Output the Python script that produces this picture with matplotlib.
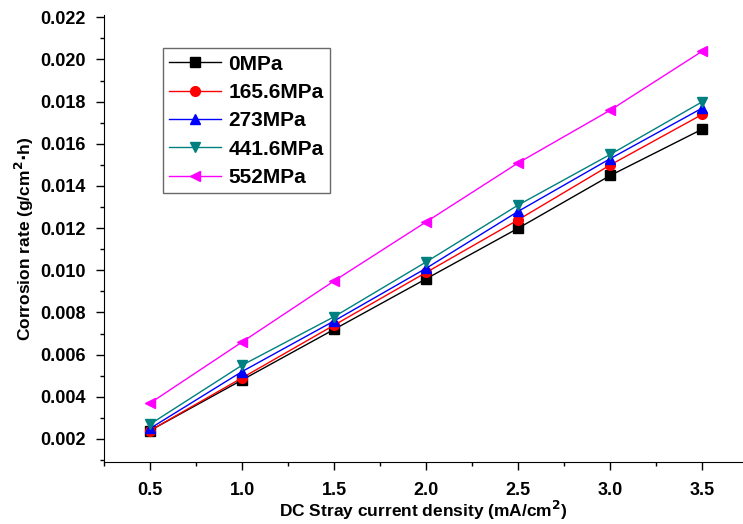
import matplotlib
matplotlib.use('Agg')
import matplotlib.pyplot as plt
from matplotlib.ticker import MultipleLocator, FormatStrFormatter

plt.rcParams['font.family'] = 'Liberation Sans'
plt.rcParams['font.weight'] = 'bold'

density = [0.5, 1.0, 1.5, 2.0, 2.5, 3.0, 3.5]
labels = ['0MPa', '165.6MPa', '273MPa', '441.6MPa', '552MPa']
rate_0 = [0.0024, 0.0048, 0.0072, 0.0096, 0.0120, 0.0145, 0.0167]
rate_165 = [0.0024, 0.0049, 0.0074, 0.0099, 0.0124, 0.0150, 0.0174]
rate_273 = [0.0025, 0.0052, 0.0076, 0.0101, 0.0128, 0.0153, 0.0177]
rate_441 = [0.0027, 0.0055, 0.0078, 0.0104, 0.0131, 0.0155, 0.0180]
rate_552 = [0.0037, 0.0066, 0.0095, 0.0123, 0.0151, 0.0176, 0.0204]

series = [rate_0, rate_165, rate_273, rate_441, rate_552]
colors = ['black', 'red', 'blue', '#008080', 'magenta']
markers = ['s', 'o', '^', 'v', '<']

fig = plt.figure(figsize=(7.43, 5.24), dpi=100)
ax = fig.add_axes([0.14, 0.118, 0.86, 0.853])

for vals, c, m, lab in zip(series, colors, markers, labels):
    ax.plot(density, vals, color=c, marker=m, markersize=7, linewidth=1, label=lab)

ax.set_xlim(0.25, 3.72)
ax.set_ylim(0.0009, 0.0221)
ax.xaxis.set_major_locator(MultipleLocator(0.5))
ax.xaxis.set_minor_locator(MultipleLocator(0.25))
ax.yaxis.set_major_locator(MultipleLocator(0.002))
ax.yaxis.set_minor_locator(MultipleLocator(0.001))
ax.xaxis.set_major_formatter(FormatStrFormatter('%.1f'))
ax.yaxis.set_major_formatter(FormatStrFormatter('%.3f'))
ax.tick_params(which='major', direction='out', length=6, width=1, labelsize=13)
ax.tick_params(which='minor', direction='out', length=3, width=1)
ax.tick_params(axis='x', which='major', pad=8)
ax.tick_params(axis='y', which='major', pad=7)
ax.spines['top'].set_visible(False)
ax.spines['right'].set_visible(False)

ax.set_xlabel('DC Stray current density (mA/cm$^\\mathbf{2}$)', fontsize=12.5, fontweight='bold', labelpad=0)
ax.set_ylabel('Corrosion rate (g/cm$^\\mathbf{2}$$\\cdot$h)', fontsize=12.5, fontweight='bold', labelpad=3)

leg = ax.legend(loc='upper left', bbox_to_anchor=(0.092, 0.926), fontsize=15, handlelength=2.5,
                frameon=True, fancybox=False, edgecolor='#444444', borderpad=0.3,
                labelspacing=0.45, handletextpad=0.35, borderaxespad=0)
leg.get_frame().set_linewidth(1)

fig.savefig('out.png', dpi=100)
